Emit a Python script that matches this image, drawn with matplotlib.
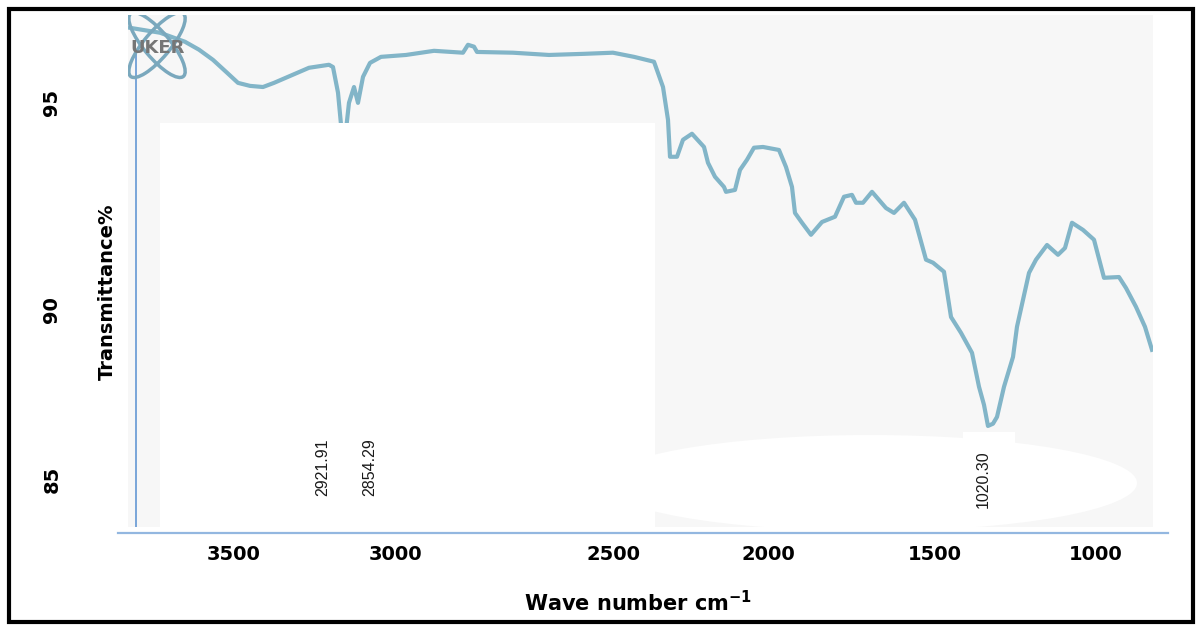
import matplotlib
matplotlib.use('Agg')
import matplotlib.pyplot as plt
from matplotlib.patches import Rectangle, Ellipse
from matplotlib.lines import Line2D
from matplotlib.transforms import IdentityTransform

# FTIR spectrum
wavenumber = [3545.9, 3457.6, 3384.0, 3342.8, 3301.6, 3260.4, 3228.0, 3192.7, 3154.4, 3122.0,
              3080.8, 3019.0, 2960.1, 2948.4, 2933.6, 2921.9, 2910.1, 2901.3, 2886.5, 2874.8,
              2860.0, 2839.4, 2807.1, 2733.5, 2651.0, 2565.7, 2551.0, 2533.3, 2524.5, 2418.5,
              2312.5, 2209.5, 2124.1, 2062.3, 2003.4, 1976.9, 1962.2, 1956.3, 1935.7, 1918.1,
              1891.6, 1856.2, 1844.5, 1823.9, 1797.4, 1791.5, 1765.0, 1750.3, 1729.7, 1709.1,
              1682.6, 1635.5, 1614.9, 1597.2, 1588.4, 1567.8, 1541.3, 1508.9, 1470.6, 1444.1,
              1420.6, 1408.8, 1388.2, 1361.7, 1320.5, 1296.9, 1267.5, 1235.1, 1202.7, 1182.1,
              1149.8, 1129.1, 1099.7, 1067.3, 1046.7, 1032.0, 1020.3, 1005.5, 993.7, 973.1,
              946.6, 934.9, 899.5, 878.9, 846.5, 814.2, 793.6, 773.0, 740.6, 708.2,
              678.8, 634.6, 614.0, 584.6, 558.1, 537.5]
transmittance = [96.99, 96.86, 96.62, 96.41, 96.14, 95.80, 95.53, 95.45, 95.42, 95.53,
                 95.69, 95.93, 96.01, 95.95, 95.27, 94.15, 94.28, 95.00, 95.42, 95.00,
                 95.69, 96.06, 96.22, 96.27, 96.38, 96.33, 96.54, 96.49, 96.35, 96.33,
                 96.27, 96.30, 96.33, 96.22, 96.09, 95.42, 94.55, 93.57, 93.57, 94.02,
                 94.18, 93.83, 93.41, 93.04, 92.77, 92.64, 92.69, 93.22, 93.49, 93.81,
                 93.83, 93.75, 93.30, 92.77, 92.08, 91.82, 91.50, 91.84, 91.98, 92.51,
                 92.56, 92.35, 92.35, 92.64, 92.21, 92.08, 92.35, 91.90, 90.84, 90.76,
                 90.52, 89.32, 88.90, 88.37, 87.47, 86.99, 86.43, 86.49, 86.67, 87.47,
                 88.26, 89.06, 90.49, 90.84, 91.23, 90.97, 91.15, 91.82, 91.63, 91.37,
                 90.36, 90.38, 90.09, 89.59, 89.06, 88.45]

peaks = [2921.91, 2854.29, 1020.30]
peak_labels = ['2921.91', '2854.29', '1020.30']

# the printed axis labels do not sit at their true values in the original
xtick_pos = [3239.8, 2762.9, 2124.1, 1667.8, 1176.2, 702.3]
xtick_labels = ['3500', '3000', '2500', '2000', '1500', '1000']
ytick_pos = [95.0, 89.51, 85.0]
ytick_labels = ['95', '90', '85']

line_col = '#82b5c8'
axis_col = '#6f9fd6'

fig = plt.figure(figsize=(12, 6.25), dpi=100)
fig.patch.set_facecolor('white')

ax = fig.add_axes([128/1200, 98/625, 1025/1200, 512/625])
ax.set_facecolor('#f7f7f7')
for s in ax.spines.values():
    s.set_visible(False)

ax.plot(wavenumber, transmittance, color=line_col, lw=3, solid_joinstyle='round', zorder=2)
ax.set_xlim(3551.8, 534.5)
ax.set_ylim(83.75, 97.33)

# white patches laid over the spectrum
ax.add_patch(Rectangle((0.0312, 0), 0.4829, 0.789, transform=ax.transAxes,
                       facecolor='white', edgecolor='none', zorder=3))
ax.add_patch(Ellipse((0.7239, 0.0859), 0.521, 0.1875, transform=ax.transAxes,
                     facecolor='white', edgecolor='none', zorder=3))
ax.add_patch(Rectangle((0.8146, 0.0918), 0.0507, 0.0937, transform=ax.transAxes,
                       facecolor='white', edgecolor='none', zorder=3))

# y axis line
ax.axvline(3528.3, ymin=0, ymax=0.932, color=axis_col, lw=1.3, zorder=4)

# logo remnant
for ang in (50, -50):
    ax.add_patch(Ellipse((157, 625 - 45), 82, 26, angle=ang, transform=IdentityTransform(),
                         facecolor='none', edgecolor='#7aa8bd', lw=2.5, zorder=4))
ax.text(0.002, 0.9355, 'UKER', transform=ax.transAxes, ha='left', va='center',
        fontsize=13, fontweight='bold', color='#767676', zorder=5)

ax.set_xticks(xtick_pos)
ax.set_xticklabels(xtick_labels)
ax.set_yticks(ytick_pos)
ax.set_yticklabels(ytick_labels)
ax.tick_params(axis='x', length=0, pad=13, labelsize=14)
ax.tick_params(axis='y', length=0, pad=48, labelsize=14, labelrotation=90)
for lbl in ax.get_xticklabels() + ax.get_yticklabels():
    lbl.set_fontweight('bold')
for lbl in ax.get_yticklabels():
    lbl.set_va('center')

ax.set_xlabel(r'Wave number cm$^{\mathbf{-1}}$', fontsize=15, fontweight='bold', va='center')
ax.xaxis.set_label_coords(0.4976, -0.1484)
ax.set_ylabel('Transmittance%', fontsize=14, fontweight='bold', va='center')
ax.yaxis.set_label_coords(-0.0205, 0.459)

# peak labels
offsets = [-13.7, 3.7, -3.6]
label_y = [0.117, 0.117, 0.094]
for p, txt, dx, yy in zip(peaks, peak_labels, offsets, label_y):
    ax.annotate(txt, xy=(p, yy), xycoords=ax.get_xaxis_transform(),
                xytext=(dx, 0), textcoords='offset points', rotation=90,
                ha='center', va='center', fontsize=11.5, family='Liberation Sans',
                color='#1a1a1a', zorder=6)

# bottom axis line and frame
fig.add_artist(Line2D([118/1200, 1168/1200], [92/625, 92/625], color='#93b7e0', lw=1.6))
fig.add_artist(Rectangle((0.0075, 0.0048), 0.9867, 0.9808, transform=fig.transFigure,
                         facecolor='none', edgecolor='black', lw=3))

fig.savefig('out.png', dpi=100)
